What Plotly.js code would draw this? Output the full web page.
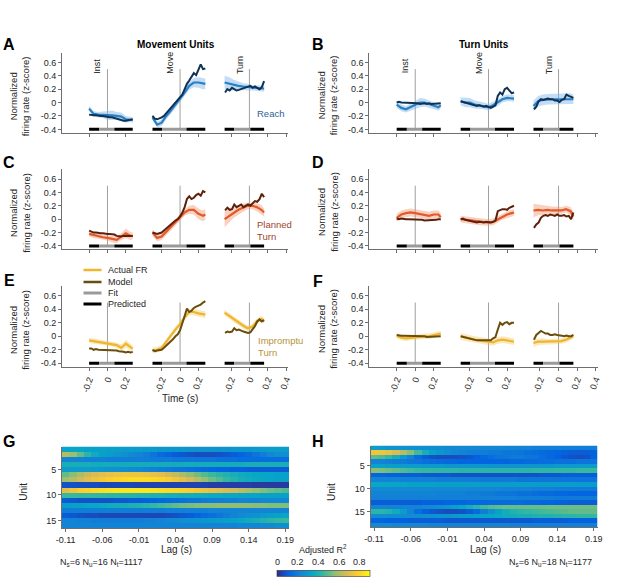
<!DOCTYPE html>
<html><head><meta charset="utf-8">
<script src="https://cdn.plot.ly/plotly-3.0.1.min.js"></script>
<style>body{margin:0;background:#fff}</style>
</head><body><div id="chart" style="width:617px;height:580px"></div>
<script>
// ---------- time grids (s) ----------
const tInst = [-0.2,-0.15,-0.1,-0.05,0,0.05,0.1,0.15,0.2,0.25,0.275];
const tMove = [-0.3,-0.25,-0.2,-0.15,-0.1,-0.05,0,0.05,0.1,0.15,0.2,0.25,0.275];
const tTurn = [-0.27,-0.22,-0.17,-0.12,-0.07,-0.02,0.03,0.08,0.13,0.16];
const tInstF = [-0.2,-0.175,-0.15,-0.125,-0.1,-0.075,-0.05,-0.025,0,0.025,0.05,0.075,0.1,0.125,0.15,0.175,0.2,0.225,0.25,0.275];
const tMoveF = [-0.3,-0.275,-0.25,-0.225,-0.2,-0.175,-0.15,-0.125,-0.1,-0.075,-0.05,-0.025,0,0.025,0.05,0.075,0.1,0.125,0.15,0.175,0.2,0.225,0.25,0.275];
const tTurnF = [-0.265,-0.24,-0.215,-0.19,-0.165,-0.14,-0.115,-0.09,-0.065,-0.04,-0.015,0.01,0.035,0.06,0.085,0.11,0.135,0.16];
// fit / predicted windows: [start, fitStart, fitEnd, end]
const winInst = [-0.2,-0.09,0.075,0.275];
const winMove = [-0.3,-0.195,0.07,0.275];
const winTurn = [-0.27,-0.165,0.01,0.16];
const eventNames = ['Inst','Move','Turn'];

// ---------- Panel A ----------
const A_actInst = [-0.09,-0.17,-0.18,-0.18,-0.19,-0.19,-0.2,-0.21,-0.25,-0.25,-0.26];
const A_sdInst  = [0.04,0.04,0.04,0.05,0.07,0.07,0.06,0.06,0.05,0.04,0.04];
const A_modInst = [-0.18,-0.19,-0.19,-0.19,-0.2,-0.2,-0.2,-0.21,-0.21,-0.22,-0.22,-0.23,-0.25,-0.26,-0.26,-0.27,-0.27,-0.26,-0.25,-0.25];
const A_actMove = [-0.22,-0.33,-0.3,-0.2,-0.12,-0.03,0.05,0.15,0.25,0.3,0.3,0.28,0.28];
const A_sdMove  = [0.04,0.04,0.05,0.05,0.05,0.05,0.05,0.05,0.06,0.07,0.08,0.08,0.08];
const A_modMove = [-0.2,-0.24,-0.25,-0.24,-0.22,-0.2,-0.16,-0.12,-0.08,-0.04,0.0,0.03,0.07,0.12,0.2,0.28,0.33,0.38,0.44,0.41,0.5,0.57,0.5,0.51];
const A_actTurn = [0.3,0.28,0.26,0.25,0.24,0.23,0.22,0.22,0.21,0.21];
const A_sdTurn  = [0.1,0.1,0.08,0.06,0.05,0.05,0.04,0.04,0.04,0.05];
const A_modTurn = [0.15,0.2,0.18,0.22,0.2,0.18,0.19,0.2,0.22,0.22,0.24,0.25,0.22,0.24,0.22,0.2,0.23,0.32];
// ---------- Panel B ----------
const B_actInst = [-0.03,-0.08,-0.1,-0.07,-0.04,0.0,0.0,-0.02,-0.05,-0.07,-0.04];
const B_sdInst  = [0.05,0.05,0.05,0.05,0.06,0.07,0.06,0.05,0.05,0.05,0.05];
const B_modInst = [0.0,0.01,0.0,0.0,0.0,0.0,0.0,-0.01,0.0,-0.01,-0.02,-0.01,-0.01,-0.02,-0.01,-0.02,-0.02,-0.01,-0.02,-0.01];
const B_actMove = [0.02,0.0,0.0,-0.03,-0.04,-0.05,-0.07,-0.04,0.0,0.05,0.07,0.07,0.06];
const B_sdMove  = [0.06,0.07,0.07,0.06,0.06,0.05,0.05,0.05,0.05,0.05,0.05,0.05,0.05];
const B_modMove = [0.02,0.01,0.0,0.0,-0.02,-0.02,-0.03,-0.05,-0.04,-0.05,-0.06,-0.05,-0.06,-0.08,-0.06,-0.04,0.1,0.15,0.12,0.2,0.22,0.18,0.14,0.15];
const B_actTurn = [-0.05,0.02,0.04,0.05,0.05,0.05,0.05,0.06,0.06,0.05];
const B_sdTurn  = [0.08,0.08,0.08,0.08,0.08,0.08,0.08,0.08,0.08,0.07];
const B_modTurn = [-0.1,-0.06,0.02,0.05,0.04,0.05,0.06,0.05,0.05,0.03,0.03,0.01,0.04,0.05,0.12,0.1,0.08,0.07];
// ---------- Panel C ----------
const C_actInst = [-0.22,-0.24,-0.26,-0.27,-0.28,-0.3,-0.31,-0.26,-0.21,-0.25,-0.25];
const C_sdInst  = [0.04,0.04,0.04,0.04,0.04,0.05,0.05,0.05,0.07,0.06,0.05];
const C_modInst = [-0.17,-0.19,-0.2,-0.2,-0.21,-0.21,-0.21,-0.22,-0.22,-0.22,-0.22,-0.23,-0.25,-0.26,-0.26,-0.25,-0.25,-0.24,-0.24,-0.25];
const C_actMove = [-0.2,-0.28,-0.26,-0.19,-0.12,-0.05,0.02,0.1,0.14,0.14,0.08,0.05,0.07];
const C_sdMove  = [0.05,0.05,0.05,0.05,0.05,0.05,0.05,0.05,0.06,0.07,0.08,0.08,0.08];
const C_modMove = [-0.2,-0.21,-0.22,-0.21,-0.2,-0.17,-0.14,-0.1,-0.07,-0.04,-0.02,0.0,0.04,0.1,0.18,0.3,0.34,0.3,0.32,0.36,0.38,0.35,0.42,0.4];
const C_actTurn = [0.0,0.05,0.1,0.14,0.17,0.2,0.2,0.18,0.14,0.1];
const C_sdTurn  = [0.12,0.1,0.08,0.07,0.06,0.05,0.05,0.06,0.07,0.06];
const C_modTurn = [0.13,0.17,0.14,0.15,0.22,0.18,0.2,0.22,0.18,0.2,0.22,0.2,0.24,0.27,0.26,0.3,0.38,0.33];
// ---------- Panel D ----------
const D_actInst = [0.02,0.07,0.09,0.1,0.09,0.08,0.07,0.05,0.07,0.07,0.03];
const D_sdInst  = [0.06,0.06,0.06,0.06,0.06,0.06,0.06,0.06,0.06,0.06,0.06];
const D_modInst = [0.01,0.0,0.01,0.0,0.0,0.0,0.0,0.0,0.0,0.0,0.0,-0.01,-0.02,-0.02,-0.02,-0.01,-0.01,-0.01,0.0,0.0];
const D_actMove = [0.0,-0.01,-0.02,-0.03,-0.04,-0.05,-0.05,-0.04,0.0,0.04,0.07,0.09,0.1];
const D_sdMove  = [0.05,0.05,0.05,0.05,0.05,0.05,0.05,0.05,0.05,0.05,0.05,0.05,0.05];
const D_modMove = [0.0,0.01,-0.01,-0.02,-0.02,-0.03,-0.04,-0.05,-0.04,-0.05,-0.05,-0.04,-0.05,-0.05,-0.04,-0.02,0.12,0.14,0.15,0.15,0.14,0.17,0.18,0.2];
const D_actTurn = [0.13,0.14,0.13,0.14,0.13,0.13,0.13,0.15,0.12,0.04];
const D_sdTurn  = [0.1,0.08,0.07,0.06,0.06,0.06,0.05,0.05,0.06,0.06];
const D_modTurn = [-0.13,-0.08,-0.05,0.02,0.05,0.06,0.05,0.07,0.06,0.05,0.07,0.05,0.05,0.06,0.04,0.05,0.0,0.1];
// ---------- Panel E ----------
const E_actInst = [-0.06,-0.07,-0.08,-0.09,-0.1,-0.11,-0.13,-0.17,-0.11,-0.16,-0.18];
const E_sdInst  = [0.04,0.04,0.04,0.04,0.04,0.04,0.04,0.05,0.06,0.05,0.04];
const E_modInst = [-0.18,-0.18,-0.2,-0.19,-0.2,-0.2,-0.21,-0.2,-0.2,-0.21,-0.21,-0.21,-0.21,-0.22,-0.22,-0.23,-0.24,-0.23,-0.24,-0.23];
const E_actMove = [-0.21,-0.2,-0.17,-0.08,0.02,0.1,0.18,0.28,0.36,0.36,0.34,0.33,0.32];
const E_sdMove  = [0.04,0.04,0.04,0.04,0.04,0.04,0.04,0.04,0.04,0.05,0.05,0.05,0.05];
const E_modMove = [-0.2,-0.22,-0.21,-0.2,-0.2,-0.17,-0.14,-0.1,-0.07,-0.04,0.0,0.03,0.09,0.18,0.3,0.41,0.36,0.38,0.42,0.44,0.45,0.47,0.5,0.52];
const E_actTurn = [0.35,0.3,0.25,0.2,0.16,0.12,0.14,0.22,0.26,0.23];
const E_sdTurn  = [0.04,0.04,0.04,0.04,0.04,0.04,0.04,0.04,0.04,0.04];
const E_modTurn = [0.05,0.07,0.06,0.07,0.12,0.09,0.1,0.08,0.07,0.06,0.05,0.06,0.1,0.15,0.22,0.25,0.22,0.24];
// ---------- Panel F ----------
const F_actInst = [0.01,-0.02,-0.03,-0.02,-0.01,0.0,0.0,0.0,0.02,0.04,0.04];
const F_sdInst  = [0.04,0.04,0.04,0.04,0.04,0.04,0.04,0.04,0.04,0.04,0.04];
const F_modInst = [0.02,0.01,0.01,0.01,0.01,0.01,0.0,0.0,0.0,0.0,0.0,0.0,0.0,-0.01,-0.01,-0.01,0.0,0.0,-0.01,0.0];
const F_actMove = [0.0,-0.02,-0.04,-0.05,-0.06,-0.07,-0.08,-0.09,-0.06,-0.05,-0.06,-0.07,-0.08];
const F_sdMove  = [0.05,0.05,0.05,0.05,0.05,0.05,0.05,0.05,0.05,0.05,0.05,0.05,0.05];
const F_modMove = [0.0,-0.01,-0.02,-0.03,-0.04,-0.05,-0.05,-0.06,-0.06,-0.06,-0.07,-0.06,-0.07,-0.06,-0.03,-0.01,0.1,0.2,0.17,0.2,0.21,0.18,0.2,0.2];
const F_actTurn = [-0.1,-0.08,-0.08,-0.08,-0.08,-0.08,-0.07,-0.05,-0.02,0.0];
const F_sdTurn  = [0.06,0.05,0.05,0.04,0.04,0.04,0.04,0.04,0.04,0.04];
const F_modTurn = [-0.05,0.02,0.05,0.08,0.06,0.04,0.04,0.02,0.02,0.03,0.02,0.02,0.01,0.0,0.01,0.0,0.0,0.02];

// ---------- Heatmaps (adjusted R^2, rows = units, cols = lags) ----------
const lags = [-0.11,-0.10,-0.09,-0.08,-0.07,-0.06,-0.05,-0.04,-0.03,-0.02,-0.01,0.00,0.01,0.02,0.03,0.04,0.05,0.06,0.07,0.08,0.09,0.10,0.11,0.12,0.13,0.14,0.15,0.16,0.17,0.18,0.19];
const lagTicks = [-0.11,-0.06,-0.01,0.04,0.09,0.14,0.19];
const lagTickText = ['-0.11','-0.06','-0.01','0.04','0.09','0.14','0.19'];
const unitsG = [1,2,3,4,5,6,7,8,9,10,11,12,13,14,15,16];
const unitsH = [1,2,3,4,5,6,7,8,9,10,11,12,13,14,15,16,17,18];
const heatG = [
 [0.33,0.33,0.33,0.32,0.32,0.32,0.31,0.31,0.30,0.30,0.30,0.29,0.29,0.28,0.28,0.28,0.28,0.27,0.27,0.27,0.27,0.27,0.27,0.28,0.28,0.28,0.29,0.29,0.30,0.30,0.30],
 [0.62,0.58,0.50,0.42,0.36,0.32,0.30,0.28,0.26,0.24,0.22,0.20,0.17,0.14,0.12,0.10,0.09,0.08,0.07,0.07,0.07,0.08,0.09,0.10,0.12,0.14,0.17,0.20,0.23,0.25,0.26],
 [0.22,0.22,0.22,0.21,0.21,0.21,0.20,0.20,0.20,0.20,0.20,0.20,0.19,0.19,0.19,0.18,0.18,0.18,0.17,0.17,0.17,0.16,0.16,0.16,0.15,0.15,0.15,0.15,0.15,0.15,0.15],
 [0.38,0.38,0.38,0.38,0.37,0.37,0.37,0.37,0.37,0.37,0.37,0.37,0.37,0.37,0.37,0.37,0.37,0.37,0.37,0.37,0.37,0.37,0.37,0.37,0.37,0.38,0.38,0.38,0.38,0.38,0.38],
 [0.30,0.30,0.30,0.30,0.29,0.28,0.27,0.26,0.25,0.24,0.23,0.22,0.21,0.20,0.19,0.18,0.17,0.16,0.15,0.14,0.13,0.12,0.12,0.11,0.11,0.10,0.10,0.10,0.10,0.10,0.10],
 [0.50,0.55,0.60,0.65,0.68,0.70,0.72,0.73,0.74,0.74,0.74,0.73,0.72,0.70,0.67,0.64,0.60,0.56,0.52,0.48,0.45,0.42,0.40,0.38,0.36,0.35,0.34,0.33,0.33,0.32,0.32],
 [0.58,0.62,0.66,0.70,0.73,0.76,0.78,0.80,0.81,0.82,0.82,0.82,0.81,0.80,0.78,0.75,0.71,0.67,0.62,0.57,0.52,0.48,0.44,0.41,0.38,0.36,0.35,0.34,0.33,0.32,0.32],
 [0.08,0.08,0.07,0.07,0.07,0.06,0.06,0.06,0.06,0.06,0.05,0.05,0.05,0.05,0.05,0.05,0.05,0.05,0.05,0.05,0.04,0.04,0.04,0.04,0.04,0.04,0.03,0.03,0.03,0.03,0.03],
 [0.70,0.74,0.78,0.80,0.82,0.83,0.84,0.85,0.85,0.85,0.85,0.85,0.84,0.83,0.82,0.81,0.80,0.78,0.76,0.74,0.72,0.70,0.68,0.66,0.63,0.60,0.57,0.54,0.52,0.50,0.48],
 [0.45,0.45,0.44,0.44,0.43,0.43,0.42,0.42,0.41,0.41,0.40,0.40,0.39,0.39,0.38,0.38,0.37,0.37,0.36,0.36,0.35,0.35,0.34,0.34,0.33,0.33,0.33,0.32,0.32,0.32,0.32],
 [0.10,0.09,0.08,0.08,0.08,0.08,0.08,0.09,0.09,0.10,0.10,0.11,0.12,0.13,0.14,0.15,0.16,0.17,0.18,0.19,0.20,0.20,0.21,0.21,0.22,0.22,0.22,0.23,0.23,0.23,0.23],
 [0.30,0.31,0.32,0.33,0.34,0.35,0.36,0.37,0.38,0.39,0.40,0.42,0.44,0.46,0.48,0.50,0.52,0.53,0.54,0.55,0.55,0.56,0.56,0.56,0.56,0.56,0.55,0.55,0.54,0.54,0.54],
 [0.20,0.20,0.20,0.20,0.20,0.20,0.20,0.20,0.20,0.20,0.20,0.20,0.20,0.20,0.21,0.21,0.21,0.21,0.21,0.21,0.22,0.22,0.22,0.22,0.22,0.22,0.22,0.22,0.22,0.22,0.22],
 [0.10,0.09,0.08,0.07,0.07,0.06,0.06,0.06,0.06,0.06,0.06,0.06,0.06,0.06,0.07,0.08,0.09,0.10,0.12,0.14,0.16,0.18,0.20,0.22,0.24,0.26,0.27,0.29,0.31,0.32,0.33],
 [0.22,0.22,0.21,0.21,0.20,0.20,0.20,0.20,0.20,0.20,0.20,0.21,0.21,0.22,0.23,0.24,0.25,0.26,0.27,0.28,0.29,0.30,0.31,0.32,0.34,0.36,0.38,0.40,0.42,0.44,0.45],
 [0.22,0.22,0.22,0.22,0.22,0.22,0.22,0.22,0.22,0.22,0.22,0.22,0.22,0.22,0.22,0.22,0.22,0.22,0.22,0.22,0.22,0.22,0.22,0.22,0.23,0.23,0.23,0.24,0.24,0.25,0.25]
];
const heatH = [
 [0.30,0.29,0.28,0.27,0.27,0.26,0.26,0.25,0.25,0.25,0.24,0.24,0.24,0.24,0.23,0.23,0.23,0.23,0.22,0.22,0.22,0.22,0.21,0.21,0.21,0.21,0.20,0.20,0.20,0.20,0.20],
 [0.75,0.74,0.72,0.68,0.62,0.55,0.46,0.38,0.32,0.28,0.25,0.23,0.22,0.21,0.20,0.20,0.19,0.19,0.18,0.18,0.17,0.16,0.15,0.14,0.13,0.12,0.11,0.10,0.10,0.10,0.11],
 [0.50,0.48,0.44,0.38,0.30,0.22,0.15,0.10,0.08,0.07,0.07,0.07,0.08,0.09,0.11,0.13,0.15,0.17,0.18,0.19,0.19,0.18,0.17,0.15,0.13,0.11,0.09,0.08,0.07,0.08,0.11],
 [0.22,0.22,0.21,0.20,0.19,0.18,0.17,0.16,0.15,0.14,0.13,0.13,0.12,0.12,0.12,0.12,0.12,0.12,0.12,0.13,0.13,0.14,0.14,0.15,0.15,0.16,0.16,0.16,0.17,0.17,0.17],
 [0.32,0.32,0.31,0.31,0.30,0.30,0.30,0.29,0.29,0.29,0.28,0.28,0.28,0.28,0.28,0.28,0.27,0.27,0.27,0.27,0.27,0.28,0.28,0.28,0.28,0.29,0.29,0.29,0.30,0.30,0.30],
 [0.55,0.54,0.52,0.50,0.48,0.46,0.45,0.44,0.44,0.43,0.43,0.43,0.42,0.42,0.42,0.42,0.42,0.42,0.42,0.42,0.42,0.42,0.43,0.43,0.43,0.44,0.44,0.44,0.45,0.45,0.45],
 [0.12,0.12,0.11,0.11,0.10,0.10,0.10,0.09,0.09,0.09,0.09,0.08,0.08,0.08,0.08,0.08,0.08,0.08,0.08,0.08,0.08,0.08,0.08,0.09,0.09,0.09,0.10,0.10,0.10,0.10,0.10],
 [0.22,0.22,0.22,0.22,0.21,0.21,0.21,0.21,0.21,0.20,0.20,0.20,0.20,0.20,0.20,0.19,0.19,0.19,0.19,0.19,0.18,0.18,0.18,0.18,0.18,0.18,0.17,0.17,0.17,0.17,0.17],
 [0.34,0.34,0.33,0.33,0.33,0.32,0.32,0.32,0.32,0.31,0.31,0.31,0.31,0.31,0.31,0.30,0.30,0.30,0.30,0.30,0.30,0.30,0.30,0.30,0.30,0.30,0.30,0.30,0.30,0.30,0.30],
 [0.24,0.24,0.24,0.24,0.24,0.24,0.24,0.24,0.24,0.24,0.24,0.24,0.24,0.23,0.23,0.23,0.23,0.23,0.22,0.22,0.22,0.22,0.21,0.21,0.21,0.20,0.20,0.20,0.19,0.19,0.19],
 [0.22,0.22,0.22,0.22,0.22,0.22,0.22,0.22,0.22,0.21,0.21,0.21,0.21,0.20,0.20,0.19,0.19,0.18,0.18,0.17,0.16,0.16,0.15,0.14,0.14,0.13,0.13,0.12,0.12,0.12,0.12],
 [0.21,0.21,0.21,0.21,0.21,0.21,0.21,0.21,0.21,0.21,0.21,0.21,0.21,0.21,0.21,0.21,0.21,0.21,0.21,0.21,0.20,0.20,0.20,0.20,0.20,0.19,0.19,0.19,0.19,0.19,0.19],
 [0.10,0.10,0.10,0.10,0.10,0.10,0.10,0.11,0.11,0.11,0.12,0.12,0.12,0.13,0.13,0.13,0.14,0.14,0.14,0.14,0.14,0.13,0.13,0.12,0.12,0.11,0.11,0.10,0.10,0.10,0.10],
 [0.22,0.22,0.22,0.22,0.22,0.22,0.22,0.23,0.24,0.26,0.28,0.31,0.34,0.38,0.42,0.46,0.49,0.50,0.51,0.51,0.51,0.51,0.51,0.51,0.52,0.52,0.52,0.52,0.52,0.52,0.52],
 [0.42,0.42,0.40,0.36,0.30,0.22,0.15,0.11,0.09,0.08,0.07,0.07,0.08,0.10,0.14,0.20,0.26,0.32,0.37,0.40,0.42,0.44,0.45,0.46,0.47,0.48,0.49,0.50,0.50,0.50,0.50],
 [0.25,0.25,0.25,0.25,0.25,0.25,0.25,0.26,0.26,0.27,0.28,0.29,0.30,0.31,0.32,0.33,0.34,0.35,0.36,0.37,0.38,0.38,0.39,0.40,0.40,0.41,0.42,0.42,0.43,0.43,0.44],
 [0.12,0.12,0.11,0.11,0.11,0.10,0.10,0.10,0.10,0.10,0.09,0.09,0.09,0.09,0.09,0.09,0.09,0.09,0.09,0.09,0.09,0.09,0.10,0.10,0.10,0.10,0.10,0.11,0.11,0.11,0.11],
 [0.24,0.24,0.24,0.23,0.23,0.23,0.23,0.23,0.22,0.22,0.22,0.22,0.22,0.22,0.22,0.22,0.22,0.22,0.22,0.21,0.21,0.21,0.21,0.21,0.21,0.21,0.21,0.21,0.21,0.21,0.21]
];
const cbTicks = [0,0.2,0.4,0.6,0.8];
const yTicks = [-0.4,-0.2,0,0.2,0.4,0.6];
const yTickText = ['-0.4','-0.2','0','0.2','0.4','0.6'];
const xTickSec = [[-0.2,0,0.2],[-0.2,0,0.2],[-0.2,0,0.2,0.4]];
const xTickText = [['-0.2','0','0.2'],['-0.2','0','0.2'],['-0.2','0','0.2','0.4']];

// ---------- layout helpers ----------
const W = 617, H = 580;
const px = v => v / W, py = v => 1 - v / H;
const segOff = [0, 0.79, 1.545];
const xRange = [-0.495, 1.965];
const colDom = [[px(62), px(288)], [px(369.3), px(597.5)]];
const rowTop = [52.7, 169.3, 286];
const rowBot = [132.7, 249.3, 366.7];
const FONT = 'Liberation Sans, Arial, Helvetica, sans-serif';
const TXT = '#262626', AX = '#6e6e6e';

const palettes = {
  blue:   {act:'#2b7fc3', mod:'#0f3153', band:'rgba(120,180,232,0.45)'},
  orange: {act:'#e2592a', mod:'#5e200b', band:'rgba(240,140,100,0.40)'},
  yellow: {act:'#f0b52c', mod:'#6a4d0d', band:'rgba(242,200,100,0.42)'}
};
const panels = [
  {row:0,col:0,pal:'blue',  act:[A_actInst,A_actMove,A_actTurn], sd:[A_sdInst,A_sdMove,A_sdTurn], mod:[A_modInst,A_modMove,A_modTurn]},
  {row:0,col:1,pal:'blue',  act:[B_actInst,B_actMove,B_actTurn], sd:[B_sdInst,B_sdMove,B_sdTurn], mod:[B_modInst,B_modMove,B_modTurn]},
  {row:1,col:0,pal:'orange',act:[C_actInst,C_actMove,C_actTurn], sd:[C_sdInst,C_sdMove,C_sdTurn], mod:[C_modInst,C_modMove,C_modTurn]},
  {row:1,col:1,pal:'orange',act:[D_actInst,D_actMove,D_actTurn], sd:[D_sdInst,D_sdMove,D_sdTurn], mod:[D_modInst,D_modMove,D_modTurn]},
  {row:2,col:0,pal:'yellow',act:[E_actInst,E_actMove,E_actTurn], sd:[E_sdInst,E_sdMove,E_sdTurn], mod:[E_modInst,E_modMove,E_modTurn]},
  {row:2,col:1,pal:'yellow',act:[F_actInst,F_actMove,F_actTurn], sd:[F_sdInst,F_sdMove,F_sdTurn], mod:[F_modInst,F_modMove,F_modTurn]}
];
const tCoarse = [tInst, tMove, tTurn];
const tFine = [tInstF, tMoveF, tTurnF];
const wins = [winInst, winMove, winTurn];

const traces = [], shapes = [], annotations = [];
const layout = {
  width: W, height: H, margin: {l:0,r:0,t:0,b:0},
  paper_bgcolor: '#fff', plot_bgcolor: 'rgba(0,0,0,0)',
  font: {family: FONT, size: 9, color: TXT},
  showlegend: false
};

const xTickVals = [], xTickLbl = [];
xTickSec.forEach((arr, s) => arr.forEach((v, k) => { xTickVals.push(v + segOff[s]); xTickLbl.push(xTickText[s][k]); }));

panels.forEach((p, i) => {
  const n = i + 1;
  const xa = 'x' + (n === 1 ? '' : n), ya = 'y' + (n === 1 ? '' : n);
  const pal = palettes[p.pal];
  layout['xaxis' + (n === 1 ? '' : n)] = {
    domain: colDom[p.col], range: xRange, anchor: ya, showgrid: false, zeroline: false,
    showline: true, linecolor: AX, linewidth: 1, ticks: 'outside', ticklen: 3, tickcolor: AX,
    tickmode: 'array', tickvals: xTickVals, ticktext: xTickLbl, showticklabels: p.row === 2,
    tickangle: -70, tickfont: {size: 9, color: TXT}
  };
  layout['yaxis' + (n === 1 ? '' : n)] = {
    domain: [py(rowBot[p.row]), py(rowTop[p.row])], range: [-0.45, 0.745], anchor: xa,
    showgrid: false, zeroline: false, showline: true, linecolor: AX, linewidth: 1,
    ticks: 'outside', ticklen: 3, tickcolor: AX, tickmode: 'array', tickvals: yTicks, ticktext: yTickText,
    tickfont: {size: 9, color: TXT}
  };
  for (let s = 0; s < 3; s++) {
    const off = segOff[s], t = tCoarse[s], tf = tFine[s], a = p.act[s], sd = p.sd[s], m = p.mod[s], w = wins[s];
    // event line
    shapes.push({type:'line', xref:xa, yref:ya, x0:off, x1:off, y0:-0.4, y1:0.5, line:{color:'#a0a0a0', width:1}, layer:'below'});
    // band
    const up = a.map((v, k) => v + sd[k]), lo = a.map((v, k) => v - sd[k]);
    traces.push({type:'scatter', mode:'lines', xaxis:xa, yaxis:ya,
      x: t.map(v => v + off).concat(t.slice().reverse().map(v => v + off)),
      y: up.concat(lo.slice().reverse()), fill:'toself', fillcolor: pal.band,
      line:{width:0, color:'rgba(0,0,0,0)'}, hoverinfo:'skip'});
    // fit / predicted bars
    for (let k = 0; k < 3; k++) {
      traces.push({type:'scatter', mode:'lines', xaxis:xa, yaxis:ya,
        x:[w[k] + off, w[k+1] + off], y:[-0.4, -0.4],
        line:{color: k === 1 ? '#9a9a9a' : '#000', width:3}, hoverinfo:'skip'});
    }
    // actual FR
    traces.push({type:'scatter', mode:'lines', xaxis:xa, yaxis:ya,
      x: t.map(v => v + off), y: a, line:{color: pal.act, width:2.2}});
    // model
    traces.push({type:'scatter', mode:'lines', xaxis:xa, yaxis:ya,
      x: tf.map(v => v + off), y: m, line:{color: pal.mod, width:2}});
    if (p.row === 0) {
      annotations.push({xref:xa, yref:ya, x: off - 0.11, y: 0.4, text: eventNames[s], textangle:-90,
        showarrow:false, xanchor:'center', yanchor:'bottom', font:{size:9, color:TXT}});
    }
  }
  // y-axis title
  const cy = (rowTop[p.row] + rowBot[p.row]) / 2 + 3;
  annotations.push({xref:'paper', yref:'paper', x: px(p.col === 0 ? 19.5 : 327.5), y: py(cy),
    text:'Normalized<br>firing rate (z-score)', textangle:-90, showarrow:false,
    xanchor:'center', yanchor:'middle', font:{size:9.5, color:TXT}});
});

// heatmaps
const parula = [[0,'#352a87'],[0.125,'#0363e1'],[0.25,'#1485d4'],[0.375,'#06a7c6'],[0.5,'#38b99e'],[0.625,'#92bf73'],[0.75,'#d9ba56'],[0.875,'#fcce2e'],[1,'#f9fb0e']];
const cMin = 0, cMax = 0.9;
const cbLeft = 277, cbRight = 370;
layout.coloraxis = {colorscale: parula, cmin: cMin, cmax: cMax,
  colorbar: {orientation:'h', x: px(cbLeft), xanchor:'left', y: py(577), yanchor:'bottom',
    len: cbRight - cbLeft, lenmode:'pixels', thickness: 6, thicknessmode:'pixels',
    xpad:0, ypad:0, outlinewidth:0.6, outlinecolor:'#333', ticks:'', showticklabels:false}};
traces.push({type:'heatmap', x: lags, y: unitsG, z: heatG, coloraxis:'coloraxis', xaxis:'x7', yaxis:'y7', hoverinfo:'skip'});
traces.push({type:'heatmap', x: lags, y: unitsH, z: heatH, coloraxis:'coloraxis', xaxis:'x8', yaxis:'y8', hoverinfo:'skip'});
const hx = (dom) => ({domain: dom, range:[-0.115, 0.195], showgrid:false, zeroline:false, showline:true,
  linecolor:AX, ticks:'outside', ticklen:3, tickcolor:AX, tickmode:'array', tickvals: lagTicks, ticktext: lagTickText,
  tickfont:{size:9, color:TXT}});
const hy = (dom, n) => ({domain: dom, range:[n + 0.5, 0.5], showgrid:false, zeroline:false, showline:true,
  linecolor:AX, ticks:'outside', ticklen:3, tickcolor:AX, tickmode:'array', tickvals:[5,10,15],
  tickfont:{size:9, color:TXT}});
layout.xaxis7 = Object.assign(hx([px(62), px(289)]), {anchor:'y7'});
layout.yaxis7 = Object.assign(hy([py(528), py(446.5)], 16), {anchor:'x7'});
layout.xaxis8 = Object.assign(hx([px(370.5), px(597.5)]), {anchor:'y8'});
layout.yaxis8 = Object.assign(hy([py(527.4), py(445.5)], 18), {anchor:'x8'});

// text annotations
const pa = (x, y, text, opt) => annotations.push(Object.assign({xref:'paper', yref:'paper', x: px(x), y: py(y),
  text, showarrow:false, xanchor:'center', yanchor:'middle', font:{size:9, color:TXT}}, opt || {}));
[['A',9,44],['B',317.5,44],['C',9,162.5],['D',317.5,162.5],['E',9,280],['F',317.5,281],['G',9,441],['H',317.5,441]]
  .forEach(([l, x, y]) => pa(x, y, '<b>' + l + '</b>', {font:{size:16, color:'#000'}}));
pa(176, 45, '<b>Movement Units</b>', {font:{size:10, color:'#000'}});
pa(484, 45, '<b>Turn Units</b>', {font:{size:10, color:'#000'}});
pa(255, 113, 'Reach', {xanchor:'left', font:{size:9.5, color:'#2d6396'}});
pa(255, 230, 'Planned<br>Turn', {xanchor:'left', align:'left', font:{size:9.5, color:'#a0452a'}});
pa(256, 346.5, 'Impromptu<br>Turn', {xanchor:'left', align:'left', font:{size:9.5, color:'#b8923a'}});
pa(180, 398, 'Time (s)', {font:{size:10, color:TXT}});
pa(176, 549, 'Lag (s)', {font:{size:10, color:TXT}});
pa(485, 549, 'Lag (s)', {font:{size:10, color:TXT}});
pa(24, 491.7, 'Unit', {textangle:-90, font:{size:10, color:TXT}});
pa(331.7, 492.3, 'Unit', {textangle:-90, font:{size:10, color:TXT}});
pa(58, 562, 'N<sub>s</sub>=6 N<sub>u</sub>=16 N<sub>t</sub>=1117', {xanchor:'left'});
pa(594, 562, 'N<sub>s</sub>=6 N<sub>u</sub>=18 N<sub>t</sub>=1177', {xanchor:'right'});
pa(323, 549, 'Adjusted R<sup>2</sup>');
cbTicks.forEach(v => pa(cbLeft + (v - cMin) / (cMax - cMin) * (cbRight - cbLeft), 561.5, String(v)));

// legend (panel E)
const legend = [['Actual FR', palettes.yellow.act, 2.5, 270], ['Model', palettes.yellow.mod, 2.5, 282], ['Fit', '#9a9a9a', 3, 293], ['Predicted', '#000', 3, 304]];
legend.forEach(([name, col, wd, y]) => {
  shapes.push({type:'line', xref:'paper', yref:'paper', x0: px(83.5), x1: px(101.5), y0: py(y), y1: py(y), line:{color: col, width: wd}});
  pa(106, y, name, {xanchor:'left'});
});

layout.shapes = shapes;
layout.annotations = annotations;
Plotly.newPlot('chart', traces, layout, {displayModeBar:false, staticPlot:true});
</script></body></html>
